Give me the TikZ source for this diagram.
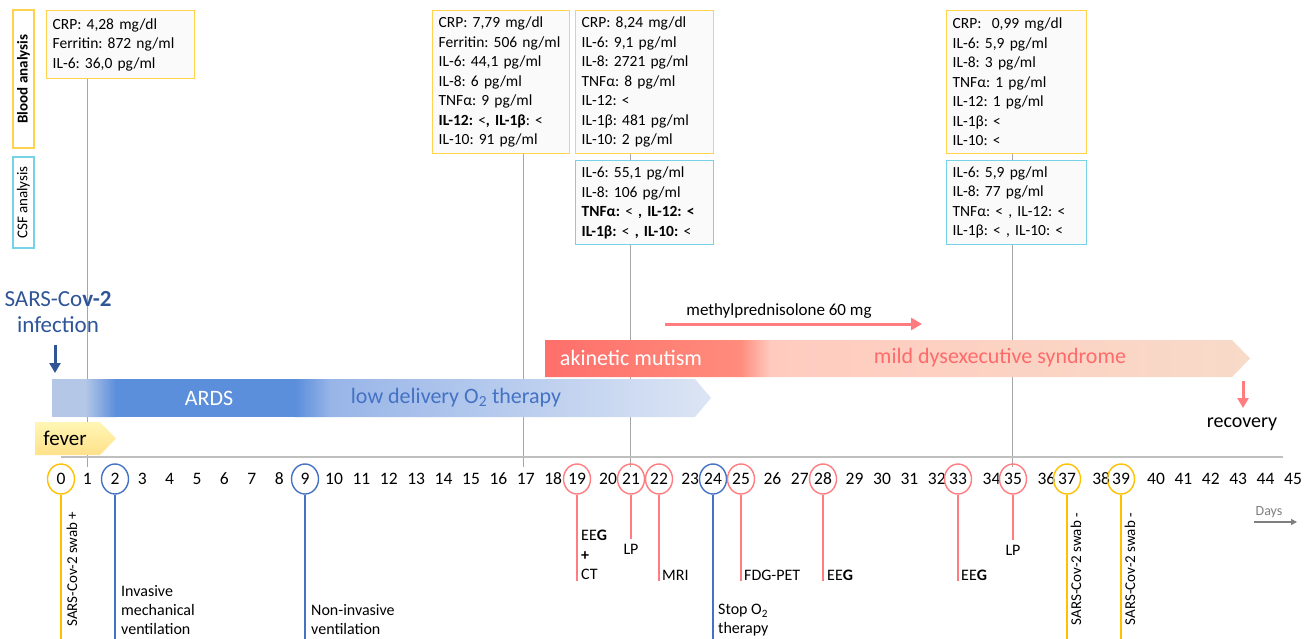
\documentclass[tikz,border=0pt]{standalone}
\usepackage{fontspec}
\setmainfont{Carlito}
\usetikzlibrary{shapes.geometric,arrows.meta}

\definecolor{yelbox}{HTML}{FFD34E}
\definecolor{cyanbox}{HTML}{78D2E6}
\definecolor{boxfill}{HTML}{FAFAFA}
\definecolor{yelday}{HTML}{FFC000}
\definecolor{bluday}{HTML}{4472C4}
\definecolor{redday}{HTML}{FF7C80}
\definecolor{gridgray}{HTML}{A6A6A6}
\definecolor{axisgray}{HTML}{BFBFBF}
\definecolor{daysgray}{HTML}{7F7F7F}
\definecolor{infblue}{HTML}{2F5597}
\definecolor{bluePale}{HTML}{B4C7E7}
\definecolor{blueDeep}{HTML}{5B8EDB}
\definecolor{blueMid}{HTML}{98B5E8}
\definecolor{blueFaint}{HTML}{DCE5F4}
\definecolor{redDeep}{HTML}{FF6F6B}
\definecolor{redMid}{HTML}{FF8C7C}
\definecolor{redPale}{HTML}{FFCBBF}
\definecolor{peach}{HTML}{F8DAC8}
\definecolor{redtext}{HTML}{FF6B6B}
\definecolor{feverTop}{HTML}{FFF6B5}
\definecolor{feverBot}{HTML}{FFE18A}

\frenchspacing

\begin{document}
\begin{tikzpicture}[x=1pt, y=-1pt, >=Triangle,
  lab/.style={font=\fontsize{16}{19}\selectfont, align=left, inner sep=0pt},
  blood/.style={draw=yelbox, line width=1.3pt, fill=boxfill, anchor=north west,
    inner xsep=6pt, inner ysep=5pt, align=left, font=\fontsize{15.5}{19.5}\selectfont},
  csf/.style={blood, draw=cyanbox},
  sidebox/.style={line width=1.3pt, fill=white, rotate=90, minimum height=21pt,
    inner sep=0pt, font=\fontsize{15}{18}\selectfont},
  dayc/.style={ellipse, draw=#1, line width=1.4pt, minimum width=27pt,
    minimum height=30pt, inner sep=0pt, font=\fontsize{17.5}{20}\selectfont},
  dayn/.style={inner sep=0pt, font=\fontsize{17.5}{20}\selectfont},
  vline/.style={gridgray, line width=1pt},
  bandtxt/.style={font=\fontsize{22}{25}\selectfont},
  swab/.style={lab, rotate=90, font=\fontsize{15}{18}\selectfont}]

\useasboundingbox (0,0) rectangle (1311,639);

% side labels
\node[sidebox, draw=yelbox, minimum width=138pt] (bloodlab) at (23.5,79) {\textbf{Blood analysis}};
\node[sidebox, draw=cyanbox, minimum width=91pt] (csflab) at (23.5,202.5) {CSF analysis};

% lab boxes
\node[blood, text width=136pt, minimum height=68pt] (blood1) at (46,10)
  {CRP: 4,28 mg/dl\\Ferritin: 872 ng/ml\\IL-6: 36,0 pg/ml};
\node[blood, text width=125pt, minimum height=143pt] (blood17) at (432,10)
  {CRP: 7,79 mg/dl\\Ferritin: 506 ng/ml\\IL-6: 44,1 pg/ml\\IL-8: 6 pg/ml\\TNFα: 9 pg/ml\\
   \textbf{IL-12:} <\textbf{, IL-1β}: <\\IL-10: 91 pg/ml};
\node[blood, text width=126pt, minimum height=143pt] (blood21) at (575,10)
  {CRP: 8,24 mg/dl\\IL-6: 9,1 pg/ml\\IL-8: 2721 pg/ml\\TNFα: 8 pg/ml\\IL-12: <\\
   IL-1β: 481 pg/ml\\IL-10: 2 pg/ml};
\node[csf, text width=126pt, minimum height=84pt] (csf21) at (575,160)
  {IL-6: 55,1 pg/ml\\IL-8: 106 pg/ml\\\textbf{TNFα:} < \textbf{, IL-12: <}\\
   \textbf{IL-1β:} < \textbf{, IL-10:} <};
\node[blood, text width=128pt, minimum height=143pt] (blood35) at (946,10)
  {CRP: \ 0,99 mg/dl\\IL-6: 5,9 pg/ml\\IL-8: 3 pg/ml\\TNFα: 1 pg/ml\\IL-12: 1 pg/ml\\
   IL-1β: <\\IL-10: <};
\node[csf, text width=128pt, minimum height=84pt] (csf35) at (946,160)
  {IL-6: 5,9 pg/ml\\IL-8: 77 pg/ml\\TNFα: < , IL-12: <\\IL-1β: < , IL-10: <};

% lines down to the axis
\coordinate (t1) at (87,467);
\coordinate (t17) at (523,467);
\coordinate (t21) at (630,467);
\coordinate (t35) at (1012,467);
\draw[vline] (blood1.south -| t1) -- (t1);
\draw[vline] (blood17.south -| t17) -- (t17);
\draw[vline] (blood21.south -| t21) -- (csf21.north -| t21);
\draw[vline] (csf21.south -| t21) -- (t21);
\draw[vline] (blood35.south -| t35) -- (csf35.north -| t35);
\draw[vline] (csf35.south -| t35) -- (t35);

% infection
\node[bandtxt, font=\fontsize{23}{26}\selectfont, text=infblue, align=center, inner sep=0pt] (inf) at (58,312)
  {SARS-Co\textbf{v-2}\\infection};
\coordinate (infTop) at (55,345);
\coordinate (infTip) at (55,373);
\draw[->, infblue, line width=3pt, >={Triangle[width=11pt,length=10pt]}] (infTop) -- (infTip);

% blue band
\begin{scope}
\clip (52,379) -- (695,379) -- (711,398) -- (695,417) -- (52,417) -- cycle;
\fill[bluePale] (52,379) rectangle (86,417);
\shade[left color=bluePale, right color=blueDeep] (85,379) rectangle (116,417);
\fill[blueDeep] (115,379) rectangle (296,417);
\shade[left color=blueDeep, right color=blueMid] (295,379) rectangle (331,417);
\shade[left color=blueMid, right color=blueFaint] (330,379) rectangle (712,417);
\end{scope}
\node[bandtxt, text=white] (ards) at (209,398) {ARDS};
\node[bandtxt, text=bluday] (lowO2) at (456,398) {low delivery O\textsubscript{2} therapy};

% fever
\shade[top color=feverTop, bottom color=feverBot]
  (35,422) -- (100,422) -- (116,438.5) -- (100,455) -- (35,455) -- cycle;
\node[bandtxt, font=\fontsize{21}{24}\selectfont] (fever) at (65,438) {fever};

% red band
\begin{scope}
\clip (545,340) -- (1232,340) -- (1250,358.5) -- (1232,377) -- (545,377) -- cycle;
\shade[left color=redDeep, right color=redMid] (545,340) rectangle (741,377);
\shade[left color=redMid, right color=redPale] (740,340) rectangle (771,377);
\shade[left color=redPale, right color=peach] (770,340) rectangle (1251,377);
\end{scope}
\node[bandtxt, text=white] (akin) at (631,358) {akinetic mutism};
\node[bandtxt, text=redtext] (mild) at (1000,358) {mild dysexecutive syndrome};

% steroid
\node[font=\fontsize{17}{20}\selectfont] (methyl) at (779,311) {methylprednisolone 60 mg};
\coordinate (mpA) at (665,324);
\coordinate (mpB) at (922,324);
\draw[->, redday, line width=3pt, >={Triangle[width=12pt,length=11pt]}] (mpA) -- (mpB);

% recovery
\coordinate (recA) at (1243,381);
\coordinate (recB) at (1243,408);
\draw[->, redday, line width=3pt, >={Triangle[width=11pt,length=10pt]}] (recA) -- (recB);
\node[font=\fontsize{20}{23}\selectfont, anchor=north] (recov) at (1242,414) {recovery};

% axis
\coordinate (ax0) at (61,457);
\coordinate (ax1) at (1283,457);
\draw[axisgray, line width=1.5pt] (ax0) -- (ax1);

\foreach \d in {1,3,4,5,6,7,8,10,11,12,13,14,15,16,17,18,20,23,26,27,29,30,31,32,34,36,38,40,41,42,43,44,45}
  \node[dayn] (d\d) at ({60+27.4*\d},479) {\d};

\foreach \d/\x/\c in {0/61/yelday,2/115/bluday,9/305/bluday,19/577/redday,21/631/redday,
    22/659/redday,24/713/bluday,25/741/redday,28/823/redday,33/958/redday,35/1013/redday,
    37/1067/yelday,39/1121/yelday}
  \node[dayc=\c] (d\d) at (\x,479) {\d};

\foreach \d/\y/\c in {0/645/yelday,2/645/bluday,9/645/bluday,19/581/redday,21/539/redday,
    22/581/redday,24/645/bluday,25/581/redday,28/581/redday,33/581/redday,35/540/redday,
    37/645/yelday,39/645/yelday}{
  \coordinate (e\d) at (d\d.south |- 0,\y);
  \draw[\c, line width=2pt] (d\d.south) -- (e\d);
}

% events
\node[swab] (l0) at (72,569) {SARS-Cov-2 swab +};
\node[lab, anchor=north west] (l2) at (121,585) {Invasive\\mechanical\\ventilation};
\node[lab, anchor=north west] (l9) at (311,604) {Non-invasive\\ventilation};
\node[lab, anchor=north west, font=\fontsize{16}{19.5}\selectfont] (l19) at (581,530)
  {EE\textbf{G}\\\textbf{+}\\CT};
\node[lab, anchor=north] (l21) at ([yshift=-5pt]e21) {LP};
\node[lab, anchor=base west] (l22) at (662,580) {MRI};
\node[lab, anchor=north west] (l24) at (718,604) {Stop O\textsubscript{2}\\therapy};
\node[lab, anchor=base west] (l25) at (744,580) {FDG-PET};
\node[lab, anchor=base west] (l28) at (827,580) {EE\textbf{G}};
\node[lab, anchor=base west] (l33) at (961,580) {EE\textbf{G}};
\node[lab, anchor=north] (l35) at ([yshift=-5pt]e35) {LP};
\node[swab] (l37) at (1076,569) {SARS-Cov-2 swab -};
\node[swab] (l39) at (1130,569) {SARS-Cov-2 swab -};

% days
\node[font=\fontsize{14}{16}\selectfont, text=daysgray] (days) at (1269,512) {Days};
\coordinate (daysA) at (1254,522);
\coordinate (daysB) at (1297,522);
\draw[->, daysgray, line width=1.2pt, >={Triangle[width=6pt,length=6pt]}] (daysA) -- (daysB);

\end{tikzpicture}
\end{document}
